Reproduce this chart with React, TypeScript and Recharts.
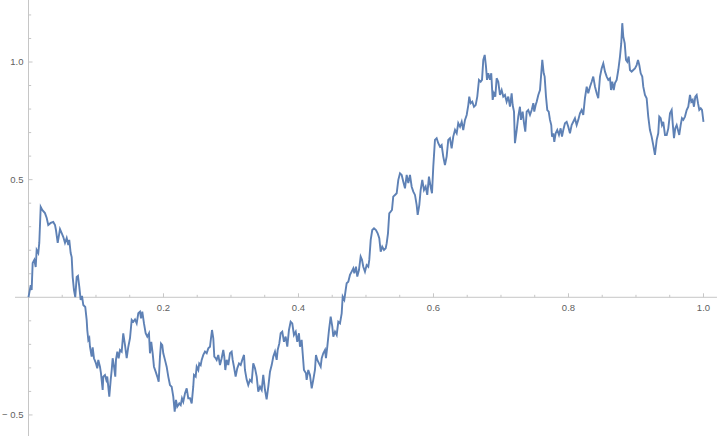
import { Line, LineChart, ReferenceLine, XAxis, YAxis } from "recharts";

// sample path (t in [0, 1])
const times = [
  0, 0.0033, 0.0047, 0.0062, 0.0086, 0.0107, 0.0121, 0.0145, 0.016, 0.0181,
  0.0204, 0.0244, 0.027, 0.0293, 0.0329, 0.0367, 0.0393, 0.0407, 0.0433, 0.0467,
  0.0492, 0.0516, 0.0541, 0.0566, 0.059, 0.0604, 0.0625, 0.064, 0.0655, 0.0674,
  0.0693, 0.0714, 0.0733, 0.0753, 0.0773, 0.0793, 0.0812, 0.0841, 0.0862, 0.0871,
  0.0886, 0.0901, 0.0911, 0.0936, 0.0951, 0.097, 0.1, 0.1019, 0.1034, 0.1059,
  0.1074, 0.1099, 0.1108, 0.1133, 0.1153, 0.1167, 0.1182, 0.1197, 0.1218, 0.1233,
  0.1247, 0.1267, 0.1286, 0.1296, 0.1316, 0.1336, 0.1356, 0.1381, 0.1404, 0.143,
  0.1455, 0.1479, 0.1504, 0.1529, 0.1553, 0.1578, 0.1603, 0.1627, 0.1652, 0.1667,
  0.1686, 0.1711, 0.1736, 0.176, 0.1785, 0.18, 0.1819, 0.184, 0.1859, 0.1884,
  0.1908, 0.1929, 0.1948, 0.1963, 0.1982, 0.1997, 0.2022, 0.2047, 0.2071, 0.2096,
  0.2121, 0.2145, 0.2166, 0.2185, 0.2204, 0.2234, 0.2255, 0.2274, 0.2293, 0.2319,
  0.2344, 0.2367, 0.2393, 0.2418, 0.2441, 0.2452, 0.2477, 0.2492, 0.2516, 0.253,
  0.2551, 0.2566, 0.259, 0.2615, 0.264, 0.2664, 0.2689, 0.2704, 0.2719, 0.2738,
  0.2753, 0.2773, 0.2788, 0.2812, 0.2837, 0.2862, 0.2886, 0.2901, 0.2916, 0.2936,
  0.296, 0.2985, 0.301, 0.3025, 0.3044, 0.3069, 0.3093, 0.3119, 0.3144, 0.3167,
  0.3193, 0.3207, 0.3233, 0.3256, 0.3281, 0.3307, 0.333, 0.3356, 0.3381, 0.3404,
  0.343, 0.3455, 0.3478, 0.3504, 0.3528, 0.3553, 0.3578, 0.3603, 0.3627, 0.3652,
  0.3677, 0.3692, 0.3716, 0.3736, 0.376, 0.3785, 0.381, 0.3834, 0.3859, 0.3884,
  0.3908, 0.3933, 0.3959, 0.3982, 0.4007, 0.4022, 0.4047, 0.4062, 0.4081, 0.4111,
  0.4121, 0.4145, 0.417, 0.4196, 0.4219, 0.4244, 0.4259, 0.4279, 0.4304, 0.4329,
  0.4344, 0.4367, 0.4393, 0.4407, 0.4427, 0.4452, 0.4477, 0.4501, 0.4516, 0.4541,
  0.4566, 0.459, 0.4615, 0.464, 0.4655, 0.4679, 0.4699, 0.4714, 0.4738, 0.4763,
  0.4788, 0.4812, 0.4827, 0.4852, 0.4871, 0.4896, 0.4921, 0.4941, 0.496, 0.4985,
  0.501, 0.5034, 0.5049, 0.507, 0.5093, 0.5119, 0.5148, 0.5173, 0.5197, 0.5218,
  0.5241, 0.5267, 0.5292, 0.5307, 0.5326, 0.5345, 0.5366, 0.5385, 0.5404, 0.543,
  0.5455, 0.5479, 0.5504, 0.5529, 0.5553, 0.5578, 0.5603, 0.5627, 0.5652, 0.5677,
  0.5701, 0.5726, 0.5751, 0.5766, 0.579, 0.581, 0.5834, 0.5859, 0.5884, 0.5908,
  0.5933, 0.5958, 0.5978, 0.5997, 0.6022, 0.6047, 0.6071, 0.6096, 0.6121, 0.6145,
  0.617, 0.6195, 0.6219, 0.6244, 0.6269, 0.6293, 0.6319, 0.6344, 0.6367, 0.6393,
  0.6418, 0.6441, 0.6467, 0.6492, 0.6516, 0.653, 0.6551, 0.6575, 0.66, 0.6625,
  0.6649, 0.6674, 0.6699, 0.6719, 0.6738, 0.6759, 0.6778, 0.6793, 0.6812, 0.6837,
  0.6856, 0.6877, 0.6896, 0.6916, 0.6936, 0.696, 0.6985, 0.701, 0.7034, 0.7059,
  0.7084, 0.7108, 0.7133, 0.7158, 0.7173, 0.7193, 0.7207, 0.7233, 0.7256, 0.7281,
  0.7296, 0.7321, 0.7341, 0.736, 0.7381, 0.7404, 0.743, 0.7455, 0.7479, 0.7493,
  0.7514, 0.7529, 0.7553, 0.7578, 0.7593, 0.7612, 0.7633, 0.7647, 0.7667, 0.7686,
  0.7707, 0.7726, 0.7745, 0.7756, 0.7775, 0.779, 0.781, 0.7834, 0.7859, 0.7884,
  0.7904, 0.7923, 0.7948, 0.7973, 0.7997, 0.8022, 0.8047, 0.8071, 0.8096, 0.8121,
  0.8145, 0.817, 0.8195, 0.8219, 0.8244, 0.827, 0.8293, 0.8319, 0.8344, 0.8367,
  0.8393, 0.8418, 0.8441, 0.8467, 0.8492, 0.8516, 0.8541, 0.8566, 0.859, 0.8615,
  0.863, 0.8649, 0.867, 0.8689, 0.8714, 0.8738, 0.8763, 0.8782, 0.8797, 0.8812,
  0.8833, 0.8852, 0.8871, 0.8892, 0.8911, 0.8936, 0.896, 0.8985, 0.901, 0.903,
  0.9049, 0.907, 0.9093, 0.9108, 0.9133, 0.9158, 0.9182, 0.9207, 0.9232, 0.9256,
  0.9281, 0.9307, 0.933, 0.9345, 0.9366, 0.9385, 0.9404, 0.943, 0.9455, 0.9479,
  0.9504, 0.9529, 0.9544, 0.9563, 0.9582, 0.9603, 0.9622, 0.9641, 0.9662, 0.9681,
  0.9701, 0.9726, 0.9751, 0.9775, 0.98, 0.9819, 0.984, 0.9859, 0.9879, 0.9899,
  0.9919, 0.9938, 0.9959, 0.9978, 1.0,
];

const values = [
  0, 0.052, 0.031, 0.146, 0.159, 0.129, 0.201, 0.188, 0.231, 0.384,
  0.371, 0.358, 0.337, 0.307, 0.316, 0.32, 0.307, 0.286, 0.231, 0.29,
  0.273, 0.256, 0.231, 0.252, 0.222, 0.244, 0.188, 0.171, 0.086, 0.031,
  0.001, 0.086, 0.091, 0.044, -0.011, 0.006, -0.033, -0.041, -0.096, -0.139,
  -0.181, -0.173, -0.21, -0.252, -0.213, -0.259, -0.281, -0.302, -0.266, -0.295,
  -0.323, -0.394, -0.337, -0.33, -0.351, -0.337, -0.38, -0.422, -0.351, -0.309,
  -0.259, -0.295, -0.337, -0.266, -0.231, -0.259, -0.224, -0.231, -0.153, -0.203,
  -0.259, -0.21, -0.174, -0.096, -0.104, -0.094, -0.111, -0.068, -0.061, -0.089,
  -0.061, -0.111, -0.153, -0.167, -0.153, -0.238, -0.189, -0.238, -0.295, -0.316,
  -0.337, -0.359, -0.252, -0.196, -0.203, -0.238, -0.266, -0.295, -0.337, -0.373,
  -0.38, -0.422, -0.486, -0.436, -0.465, -0.451, -0.458, -0.429, -0.444, -0.408,
  -0.387, -0.429, -0.429, -0.451, -0.38, -0.33, -0.337, -0.295, -0.309, -0.281,
  -0.288, -0.266, -0.245, -0.231, -0.238, -0.217, -0.21, -0.174, -0.139, -0.174,
  -0.252, -0.259, -0.266, -0.245, -0.288, -0.259, -0.224, -0.252, -0.309, -0.266,
  -0.288, -0.238, -0.231, -0.266, -0.295, -0.337, -0.302, -0.281, -0.288, -0.266,
  -0.245, -0.309, -0.351, -0.373, -0.351, -0.359, -0.281, -0.302, -0.337, -0.401,
  -0.38, -0.394, -0.33, -0.394, -0.434, -0.38, -0.316, -0.288, -0.252, -0.231,
  -0.266, -0.224, -0.196, -0.153, -0.146, -0.189, -0.167, -0.21, -0.139, -0.104,
  -0.111, -0.16, -0.146, -0.189, -0.153, -0.21, -0.181, -0.238, -0.309, -0.323,
  -0.351, -0.309, -0.33, -0.387, -0.351, -0.309, -0.245, -0.266, -0.281, -0.295,
  -0.259, -0.238, -0.224, -0.259, -0.21, -0.139, -0.082, -0.125, -0.167, -0.146,
  -0.16, -0.104, -0.111, -0.068, 0.003, -0.011, 0.031, 0.06, 0.066, 0.095,
  0.109, 0.123, 0.102, 0.13, 0.088, 0.116, 0.173, 0.159, 0.13, 0.109,
  0.137, 0.13, 0.159, 0.244, 0.286, 0.293, 0.286, 0.272, 0.251, 0.194,
  0.215, 0.201, 0.208, 0.23, 0.272, 0.357, 0.364, 0.371, 0.428, 0.435,
  0.442, 0.499, 0.527, 0.52, 0.491, 0.463, 0.52, 0.485, 0.52, 0.47,
  0.449, 0.435, 0.392, 0.35, 0.392, 0.456, 0.499, 0.456, 0.47, 0.435,
  0.513, 0.47, 0.442, 0.555, 0.669, 0.676, 0.655, 0.64, 0.647, 0.598,
  0.562, 0.598, 0.669, 0.676, 0.633, 0.683, 0.711, 0.697, 0.74, 0.725,
  0.746, 0.711, 0.754, 0.775, 0.817, 0.853, 0.825, 0.831, 0.81, 0.817,
  0.853, 0.924, 0.916, 0.924, 1.009, 1.03, 0.98, 0.924, 0.952, 0.924,
  0.952, 0.839, 0.867, 0.853, 0.931, 0.916, 0.86, 0.881, 0.853, 0.86,
  0.831, 0.853, 0.81, 0.867, 0.817, 0.789, 0.655, 0.711, 0.768, 0.81,
  0.754, 0.789, 0.74, 0.704, 0.789, 0.796, 0.775, 0.796, 0.825, 0.789,
  0.817, 0.831, 0.86, 0.881, 0.938, 1.009, 0.952, 0.938, 0.853, 0.796,
  0.789, 0.754, 0.732, 0.683, 0.697, 0.661, 0.697, 0.711, 0.69, 0.718,
  0.683, 0.711, 0.74, 0.746, 0.725, 0.697, 0.732, 0.746, 0.761, 0.732,
  0.754, 0.782, 0.796, 0.775, 0.846, 0.895, 0.867, 0.895, 0.916, 0.938,
  0.895, 0.867, 0.846, 0.938, 0.973, 0.994, 0.959, 0.938, 0.924, 0.931,
  0.881, 0.916, 0.881, 0.91, 0.924, 0.966, 1.023, 1.08, 1.165, 1.108,
  1.08, 1.009, 1.001, 1.023, 0.966, 0.959, 0.966, 0.973, 0.987, 1.009,
  0.987, 0.952, 0.938, 0.895, 0.86, 0.846, 0.768, 0.711, 0.683, 0.647,
  0.605, 0.669, 0.697, 0.768, 0.761, 0.732, 0.746, 0.69, 0.69, 0.718,
  0.782, 0.796, 0.74, 0.676, 0.718, 0.732, 0.711, 0.69, 0.732, 0.761,
  0.754, 0.768, 0.796, 0.81, 0.86, 0.831, 0.839, 0.81, 0.853, 0.86,
  0.825, 0.796, 0.803, 0.796, 0.746,
];

const xMajorTicks = [0.2, 0.4, 0.6, 0.8, 1.0];
const xTickLabels = ["0.2", "0.4", "0.6", "0.8", "1.0"];
const xMinorTicks = [
  0.05, 0.1, 0.15, 0.25, 0.3, 0.35, 0.45, 0.5, 0.55, 0.65, 0.7, 0.75, 0.85,
  0.9, 0.95,
];
const yMajorTicks = [-0.5, 0.5, 1.0];
const yTickLabels = ["\u2212 0.5", "0.5", "1.0"];
const yMinorTicks = [
  -0.4, -0.3, -0.2, -0.1, 0.1, 0.2, 0.3, 0.4, 0.6, 0.7, 0.8, 0.9, 1.1, 1.2,
];

// plot range incl. Mathematica-style padding
const X_DOMAIN: [number, number] = [-0.0422, 1.023];
const Y_DOMAIN: [number, number] = [-0.5895, 1.2635];
const X_AXIS_SPAN: [number, number] = [-0.02, 1.02];

// tick lengths, in data units
const X_TICK_MAJOR = 0.017;
const X_TICK_MINOR = 0.0105;
const Y_TICK_MAJOR = 0.006;
const Y_TICK_MINOR = 0.004;

const AXIS = "#c6c6c6";
const LABEL = "#5f5f5f";
const LINE = "#5e81b5";

const data = times.map((t, i) => ({ t, w: values[i] }));

export default function App() {
  return (
    <div
      style={{
        position: "absolute",
        left: 0,
        top: 0,
        background: "#fff",
        fontFamily: "'Liberation Sans', Arial, sans-serif",
      }}
    >
      <LineChart
        width={719}
        height={436}
        data={data}
        margin={{ top: 0, right: 0, bottom: 0, left: 0 }}
      >
        <XAxis
          type="number"
          dataKey="t"
          domain={X_DOMAIN}
          allowDataOverflow
          hide
        />
        <YAxis type="number" domain={Y_DOMAIN} allowDataOverflow hide />

        {/* axes through the origin */}
        <ReferenceLine
          segment={[
            { x: X_AXIS_SPAN[0], y: 0 },
            { x: X_AXIS_SPAN[1], y: 0 },
          ]}
          stroke={AXIS}
          strokeWidth={1}
        />
        <ReferenceLine x={0} stroke={AXIS} strokeWidth={1} />

        {xMinorTicks.map((t) => (
          <ReferenceLine
            key={`xm${t}`}
            segment={[
              { x: t, y: 0 },
              { x: t, y: X_TICK_MINOR },
            ]}
            stroke={AXIS}
          />
        ))}
        {xMajorTicks.map((t, i) => (
          <ReferenceLine
            key={`xM${t}`}
            segment={[
              { x: t, y: 0 },
              { x: t, y: X_TICK_MAJOR },
            ]}
            stroke={AXIS}
            label={{
              value: xTickLabels[i],
              position: "bottom",
              offset: 6.5,
              fill: LABEL,
              fontSize: 9.5,
            }}
          />
        ))}
        {yMinorTicks.map((v) => (
          <ReferenceLine
            key={`ym${v}`}
            segment={[
              { x: 0, y: v },
              { x: Y_TICK_MINOR, y: v },
            ]}
            stroke={AXIS}
          />
        ))}
        {yMajorTicks.map((v, i) => (
          <ReferenceLine
            key={`yM${v}`}
            segment={[
              { x: 0, y: v },
              { x: Y_TICK_MAJOR, y: v },
            ]}
            stroke={AXIS}
            label={{
              value: yTickLabels[i],
              position: "left",
              offset: 5,
              fill: LABEL,
              fontSize: 9.5,
            }}
          />
        ))}

        <Line
          type="linear"
          dataKey="w"
          stroke={LINE}
          strokeWidth={1.9}
          dot={false}
          activeDot={false}
          isAnimationActive={false}
        />
      </LineChart>
    </div>
  );
}
